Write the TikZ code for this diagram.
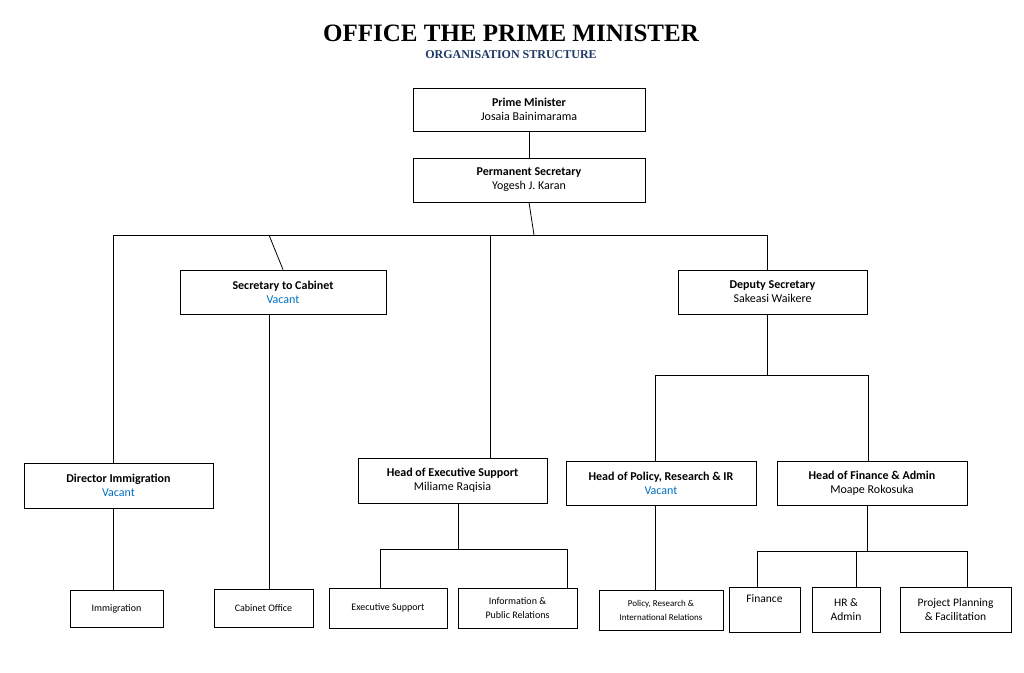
\documentclass[tikz,border=0pt]{standalone}
\usepackage{fontspec}
\setmainfont{Carlito}
\newfontfamily\titlefont{Liberation Serif}
\definecolor{vac}{RGB}{0,112,192}
\definecolor{navy}{RGB}{31,56,100}
\begin{document}
\begin{tikzpicture}[x=1pt,y=-1pt,
  box/.style={draw,line width=0.8pt,inner sep=1pt,align=center,font=\fontsize{12}{14}\selectfont},
  sbox/.style={draw,line width=0.8pt,inner sep=1pt,align=center,font=\fontsize{10}{14}\selectfont},
  ln/.style={line width=0.8pt}]
\useasboundingbox (0,0) rectangle (1024,672);
\node[font=\titlefont\bfseries\fontsize{25}{28}\selectfont] (t) at (511,33) {OFFICE THE PRIME MINISTER};
\node[font=\titlefont\bfseries\fontsize{12}{14}\selectfont,text=navy] (st) at (511,55) {ORGANISATION STRUCTURE};
\newcommand\bx[7]{\node[#1,minimum width=#4-#3,minimum height=#6-#5] (#2) at ({(#3+#4)/2},{(#5+#6)/2}) {#7};}
\bx{box}{pm}{413}{645}{88}{131}{\textbf{Prime Minister}\\Josaia Bainimarama}
\bx{box}{ps}{413}{645}{158}{202}{\textbf{Permanent Secretary}\\Yogesh J. Karan}
\bx{box}{sc}{180}{386}{270}{314}{\textbf{Secretary to Cabinet}\\\textcolor{vac}{Vacant}}
\bx{box}{ds}{678}{867}{270}{314}{\textbf{Deputy Secretary}\\Sakeasi Waikere}
\bx{box}{di}{24}{213}{463}{508}{\textbf{Director Immigration}\\\textcolor{vac}{Vacant}}
\bx{box}{he}{358}{547}{458}{503}{\textbf{Head of Executive Support}\\Miliame Raqisia}
\bx{box}{hp}{566}{756}{461}{505}{\textbf{Head of Policy, Research \& IR}\\\textcolor{vac}{Vacant}}
\bx{box}{hf}{777}{967}{461}{505}{\textbf{Head of Finance \& Admin}\\Moape Rokosuka}
\bx{sbox}{im}{70}{163}{590}{627}{Immigration}
\bx{sbox}{co}{214}{313}{589}{627}{Cabinet Office}
\bx{sbox}{es}{329}{447}{588}{628}{Executive Support}
\bx{sbox}{ip}{458}{577}{588}{628}{Information \&\\Public Relations}
\bx{sbox}{pr}{599}{723}{590}{630}{\fontsize{9}{13}\selectfont Policy, Research \&\\\fontsize{9}{13}\selectfont International Relations}
\bx{box}{fi}{729}{800}{587}{632}{\fontsize{11.5}{14}\selectfont Finance\\[8pt]}
\bx{box}{hr}{812}{880}{587}{632}{\fontsize{11.5}{14}\selectfont HR \&\\\fontsize{11.5}{14}\selectfont Admin}
\bx{box}{pp}{900}{1011}{587}{632}{\fontsize{11.5}{14}\selectfont Project Planning\\\fontsize{11.5}{14}\selectfont \& Facilitation}
\draw[ln] (pm) -- (ps);
\coordinate (j0) at (534,235);
\draw[ln] (ps.south) -- (j0);
\draw[ln] (113,235) -- (767,235);
\draw[ln] (113,235) -- (113,463);
\draw[ln] (269,235) -- (sc.north);
\draw[ln] (490,235) -- (490,458);
\draw[ln] (767,235) -- (767,270);
\draw[ln] (767,314) -- (767,375);
\draw[ln] (655,375) -- (868,375);
\draw[ln] (655,375) -- (655,461);
\draw[ln] (868,375) -- (868,461);
\draw[ln] (113,508) -- (113,590);
\draw[ln] (269,314) -- (269,589);
\draw[ln] (458,503) -- (458,549);
\draw[ln] (380,549) -- (567,549) ;
\draw[ln] (380,549) -- (380,588);
\draw[ln] (567,549) -- (567,588);
\draw[ln] (655,505) -- (655,590);
\draw[ln] (867,505) -- (867,551);
\draw[ln] (757,551) -- (967,551);
\draw[ln] (757,551) -- (757,587);
\draw[ln] (856,551) -- (856,587);
\draw[ln] (967,551) -- (967,587);
\end{tikzpicture}
\end{document}
